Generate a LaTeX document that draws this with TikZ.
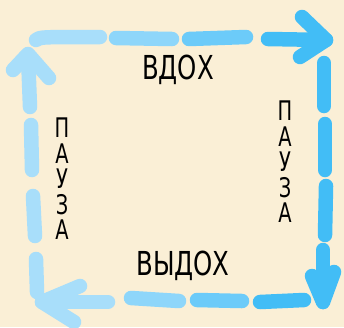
\documentclass[tikz,border=0pt]{standalone}
\usepackage{fontspec}
\setmainfont{DejaVu Sans}
\definecolor{bg}{HTML}{FAEFD6}
\definecolor{ca}{HTML}{A8DEFA}
\definecolor{cb}{HTML}{8ED6FA}
\definecolor{cc}{HTML}{6CCBF9}
\definecolor{cd}{HTML}{42BDF6}
\tikzset{
  dashseg/.style={line width=14.5pt, line cap=round, line join=round},
  lbl/.style={font=\fontsize{33}{33}\selectfont, inner sep=0pt, xscale=0.74, text=black},
  vlbl/.style={font=\fontsize{27}{25.5}\selectfont, inner sep=0pt, align=center, xscale=0.72, text=black}
}
\begin{document}
\begin{tikzpicture}[x=1pt,y=-1pt]
\fill[bg] (0,0) rectangle (344,327);
\useasboundingbox (0,0) rectangle (344,327);
% top
\draw[dashseg, ca] (36,40) .. controls (40,37) .. (100,37);
\draw[dashseg, cb] (116,38) -- (172,39);
\draw[dashseg, cc] (189,39) -- (246,37);
\draw[dashseg, cd] (268,39) -- (326,40);
\draw[dashseg, cd] (302,17) -- (326,40) -- (300,57);
% right
\draw[dashseg, cd] (324,63) -- (324,106);
\draw[dashseg, cd] (325,124) -- (325,170);
\draw[dashseg, cd] (326,186) -- (325,235);
\draw[dashseg, cd] (323,250) -- (323,302);
\draw[dashseg, cd] (312,276) -- (323,302) -- (334,272);
% bottom
\draw[dashseg, cd] (260,302) -- (304,300);
\draw[dashseg, cc] (197,300) -- (242,301);
\draw[dashseg, cb] (131,298) -- (179,301);
\draw[dashseg, ca] (108,302) -- (42,302);
\draw[dashseg, ca] (80,286) -- (42,302) -- (74,322);
% left
\draw[dashseg, ca] (37,292) -- (36,259);
\draw[dashseg, ca] (35,236) -- (33,196);
\draw[dashseg, ca] (32,170) -- (31,125);
\draw[dashseg, ca] (30,107) -- (28,55);
\draw[dashseg, ca] (13,70) -- (28,54) -- (49,78);
% labels
\node[lbl] (vdoh) at (178,70) {ВДОХ};
\node[lbl] (vydoh) at (183,266) {ВЫДОХ};
\node[vlbl] (pl) at (62,179) {П\\А\\У\\З\\А};
\node[vlbl] (pr) at (285,162) {П\\А\\У\\З\\А};
\end{tikzpicture}
\end{document}
